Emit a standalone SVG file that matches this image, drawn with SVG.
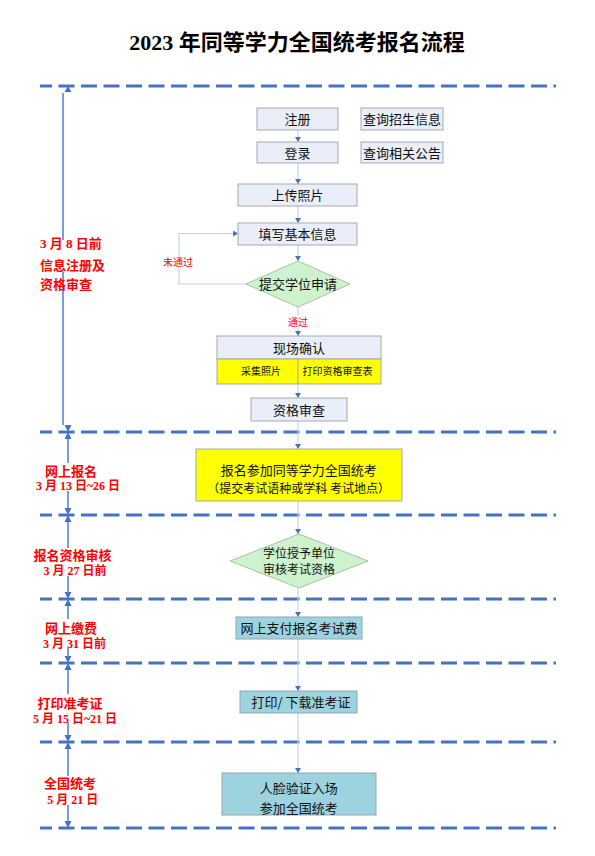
<svg xmlns="http://www.w3.org/2000/svg" width="595" height="856" viewBox="0 0 595 856">
<style>
.title{font-family:"Liberation Serif","Noto Sans CJK SC",serif;font-weight:bold;font-size:22px;fill:#000}
.lbl{font-family:"Liberation Serif","Noto Sans CJK SC",serif;font-weight:bold;fill:#FF0000}
.l13{font-size:13px}
.l12{font-size:12px}
.nt{font-family:"Noto Sans CJK SC","Liberation Sans",sans-serif;font-size:13px;fill:#111;text-anchor:middle}
.sm{font-size:10px}
.red{font-family:"Noto Sans CJK SC","Liberation Sans",sans-serif;font-size:10px;fill:#FF0000;text-anchor:middle}
.box{fill:#E9EEF8;stroke:#A6A9AE;stroke-width:1}
.yel{fill:#FFFF00;stroke:#A6A9AE;stroke-width:1}
.teal{fill:#9DD3DF;stroke:#8FA7AE;stroke-width:1}
.dia{fill:#CDF2CD;stroke:#A9C2A9;stroke-width:1}
.dash{stroke:#4472C4;stroke-width:3;stroke-dasharray:16 6.5;stroke-dashoffset:4;fill:none}
.vl{stroke:#5B86CF;stroke-width:1.6;fill:none}
.ah{fill:#4472C4}
.cn{stroke:#C5D3EE;stroke-width:1.2;fill:none}
</style>
<defs>
<marker id="arr" markerWidth="6" markerHeight="6" refX="5" refY="3" orient="auto" markerUnits="userSpaceOnUse">
<path d="M0,0 L5,3 L0,6 Z" fill="#4472C4"/>
</marker>
</defs>

<text class="title" x="297" y="50" text-anchor="middle">2023 年同等学力全国统考报名流程</text>

<g id="dashed-lines">
<line class="dash" x1="40" y1="86" x2="556" y2="86"/>
<line class="dash" x1="40" y1="432" x2="556" y2="432"/>
<line class="dash" x1="40" y1="515" x2="556" y2="515"/>
<line class="dash" x1="40" y1="599" x2="556" y2="599"/>
<line class="dash" x1="40" y1="663" x2="556" y2="663"/>
<line class="dash" x1="40" y1="742" x2="556" y2="742"/>
<line class="dash" x1="40" y1="828" x2="556" y2="828"/>
</g>

<g id="timeline">
<line class="vl" x1="63" y1="93" x2="63" y2="240"/>
<line class="vl" x1="63" y1="272" x2="63" y2="425"/>
<line class="vl" x1="68" y1="438" x2="68" y2="463"/>
<line class="vl" x1="68" y1="491" x2="68" y2="509"/>
<line class="vl" x1="68" y1="521" x2="68" y2="548"/>
<line class="vl" x1="68" y1="576" x2="68" y2="593"/>
<line class="vl" x1="68" y1="605" x2="68" y2="619"/>
<line class="vl" x1="68" y1="648" x2="68" y2="657"/>
<line class="vl" x1="68" y1="669" x2="68" y2="694"/>
<line class="vl" x1="68" y1="722" x2="68" y2="736"/>
<line class="vl" x1="68" y1="748" x2="68" y2="776"/>
<line class="vl" x1="68" y1="805" x2="68" y2="822"/>
<path class="ah" d="M68,86 L64.5,92 L71.5,92 Z"/>
<path class="ah" d="M68,432 L64.5,425 L71.5,425 Z"/>
<path class="ah" d="M68,432 L64.5,439 L71.5,439 Z"/>
<path class="ah" d="M68,515 L64.5,508 L71.5,508 Z"/>
<path class="ah" d="M68,515 L64.5,522 L71.5,522 Z"/>
<path class="ah" d="M68,599 L64.5,592 L71.5,592 Z"/>
<path class="ah" d="M68,599 L64.5,606 L71.5,606 Z"/>
<path class="ah" d="M68,663 L64.5,656 L71.5,656 Z"/>
<path class="ah" d="M68,663 L64.5,670 L71.5,670 Z"/>
<path class="ah" d="M68,742 L64.5,735 L71.5,735 Z"/>
<path class="ah" d="M68,742 L64.5,749 L71.5,749 Z"/>
<path class="ah" d="M68,828 L64.5,821 L71.5,821 Z"/>
</g>

<g id="stage-labels">
<text class="lbl l13" x="40" y="248">3 月 8 日前</text>
<text class="lbl l13" x="40" y="270">信息注册及</text>
<text class="lbl l13" x="40" y="289">资格审查</text>
<text class="lbl l13" x="71" y="475.5" text-anchor="middle">网上报名</text>
<text class="lbl l12" x="78" y="490" text-anchor="middle">3 月 13 日~26 日</text>
<text class="lbl l13" x="72.5" y="560" text-anchor="middle">报名资格审核</text>
<text class="lbl l12" x="75" y="575" text-anchor="middle">3 月 27 日前</text>
<text class="lbl l13" x="71" y="633" text-anchor="middle">网上缴费</text>
<text class="lbl l12" x="74.5" y="647.5" text-anchor="middle">3 月 31 日前</text>
<text class="lbl l13" x="70" y="708" text-anchor="middle">打印准考证</text>
<text class="lbl l12" x="75" y="722.5" text-anchor="middle">5 月 15 日~21 日</text>
<text class="lbl l13" x="70" y="788" text-anchor="middle">全国统考</text>
<text class="lbl l12" x="72.7" y="803.5" text-anchor="middle">5 月 21 日</text>
</g>

<g id="connectors">
<line class="cn" x1="298" y1="130" x2="298" y2="142" marker-end="url(#arr)"/>
<line class="cn" x1="298" y1="163" x2="298" y2="184" marker-end="url(#arr)"/>
<line class="cn" x1="298" y1="206" x2="298" y2="223" marker-end="url(#arr)"/>
<line class="cn" x1="298" y1="245" x2="298" y2="261" marker-end="url(#arr)"/>
<line class="cn" x1="298" y1="307" x2="298" y2="315"/>
<line class="cn" x1="298" y1="328" x2="298" y2="336" marker-end="url(#arr)"/>
<line class="cn" x1="298" y1="384" x2="298" y2="398" marker-end="url(#arr)"/>
<line class="cn" x1="298" y1="421" x2="298" y2="449" marker-end="url(#arr)"/>
<line class="cn" x1="298" y1="501" x2="298" y2="534" marker-end="url(#arr)"/>
<line class="cn" x1="298" y1="588" x2="298" y2="617" marker-end="url(#arr)"/>
<line class="cn" x1="298" y1="639" x2="298" y2="691" marker-end="url(#arr)"/>
<line class="cn" x1="298" y1="713" x2="298" y2="773" marker-end="url(#arr)"/>
<polyline class="cn" points="246,284 179,284 179,268"/>
<polyline class="cn" points="179,257 179,233.5 238,233.5" marker-end="url(#arr)"/>
<text class="red" x="178" y="266">未通过</text>
<text class="red" x="298" y="325.5">通过</text>
</g>

<g id="n-register"><rect class="box" x="257" y="108" width="81" height="22"/><text class="nt" x="297.5" y="124">注册</text></g>
<g id="n-login"><rect class="box" x="257" y="142" width="81" height="21"/><text class="nt" x="297.5" y="157.5">登录</text></g>
<g id="n-query1"><rect class="box" x="361" y="108" width="82" height="22"/><text class="nt" x="402" y="124">查询招生信息</text></g>
<g id="n-query2"><rect class="box" x="361" y="142" width="82" height="21"/><text class="nt" x="402" y="157.5">查询相关公告</text></g>
<g id="n-photo"><rect class="box" x="238" y="184" width="119" height="22"/><text class="nt" x="297.5" y="200">上传照片</text></g>
<g id="n-info"><rect class="box" x="238" y="223" width="119" height="22"/><text class="nt" x="297.5" y="239">填写基本信息</text></g>
<g id="n-submit"><polygon class="dia" points="298,261 350,284 298,307 246,284"/><text class="nt" x="298" y="289">提交学位申请</text></g>
<g id="n-onsite">
<rect class="box" x="217" y="336" width="164" height="23"/>
<rect class="yel" x="217" y="359" width="164" height="25"/>
<line x1="298" y1="359" x2="298" y2="384" stroke="#A6A9AE" stroke-width="1"/>
<text class="nt" x="299" y="352.5">现场确认</text>
<text class="nt sm" x="261" y="375">采集照片</text>
<text class="nt sm" x="337.5" y="375">打印资格审查表</text>
</g>
<g id="n-review"><rect class="box" x="251" y="398" width="96" height="23"/><text class="nt" x="299" y="414.5">资格审查</text></g>
<g id="n-apply"><rect class="yel" x="196" y="449" width="206" height="52"/>
<text class="nt" x="298.7" y="475">报名参加同等学力全国统考</text>
<text class="nt" x="298.7" y="492.5" style="font-size:12px">（提交考试语种或学科  考试地点）</text></g>
<g id="n-audit"><polygon class="dia" points="299,534 368,561 299,588 230,561"/>
<text class="nt" x="299" y="557.5" style="font-size:12px">学位授予单位</text><text class="nt" x="299" y="574" style="font-size:12px">审核考试资格</text></g>
<g id="n-pay"><rect class="teal" x="236" y="617" width="126" height="22"/><text class="nt" x="299" y="633">网上支付报名考试费</text></g>
<g id="n-ticket"><rect class="teal" x="240" y="691" width="117" height="22"/><text class="nt" x="301" y="707">打印/ 下载准考证</text></g>
<g id="n-exam"><rect class="teal" x="222" y="773" width="154" height="42"/>
<text class="nt" x="298.7" y="793">人脸验证入场</text><text class="nt" x="298.7" y="813">参加全国统考</text></g>
</svg>
